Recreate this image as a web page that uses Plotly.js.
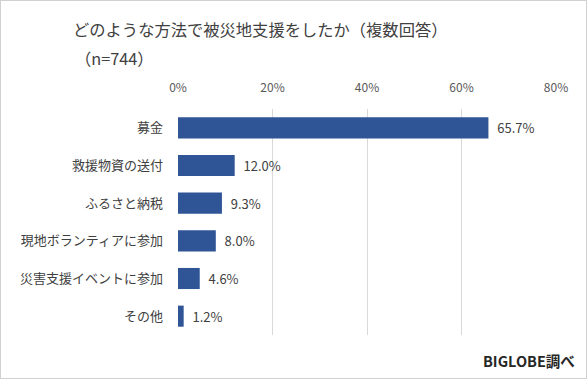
<!DOCTYPE html>
<html><head><meta charset="utf-8">
<script src="https://cdn.plot.ly/plotly-3.0.1.min.js"></script>
<style>
html,body{margin:0;padding:0;background:#fff;}
#wrap{position:relative;width:587px;height:379px;}
#frame{position:absolute;left:0;top:0;width:585px;height:377px;border:1px solid #d0d0d0;pointer-events:none;}
</style>
</head><body>
<div id="wrap"><div id="chart"></div><div id="frame"></div></div>
<script>
const categories = ["募金","救援物資の送付","ふるさと納税","現地ボランティアに参加","災害支援イベントに参加","その他"];
const values = [65.7, 12.0, 9.3, 8.0, 4.6, 1.2];
const tickValues = [0, 20, 40, 60, 80];
const tickLabels = ["0%", "20%", "40%", "60%", "80%"];
const titleLine1 = "どのような方法で被災地支援をしたか（複数回答）";
const titleLine2 = "（n=744）";
const sourceText = "BIGLOBE調べ";

const FONT = "'Noto Sans CJK JP', 'Noto Sans', sans-serif";
const L = 178, R = 556, T = 109, B = 335, W = 587, H = 379;
const px = x => (x - L) / (R - L);
const py = y => (B - y) / (B - T);

const trace = {
  type: "bar",
  orientation: "h",
  x: values,
  y: categories,
  marker: {color: "#2F5597"},
  width: 0.56,
  text: values.map(v => "  " + v.toFixed(1) + "%"),
  textposition: "outside",
  cliponaxis: false,
  textfont: {family: FONT, size: 13, color: "#404040"},
  hoverinfo: "none"
};

const layout = {
  width: W, height: H,
  margin: {l: L, r: W - R, t: T, b: H - B, pad: 0},
  paper_bgcolor: "#fff", plot_bgcolor: "#fff",
  showlegend: false,
  font: {family: FONT, color: "#404040"},
  xaxis: {
    side: "top", range: [0, 80], tickmode: "array", tickvals: tickValues, ticktext: tickLabels,
    showgrid: true, gridcolor: "#d9d9d9", gridwidth: 1, zeroline: false,
    showline: false, ticks: "", ticklabelstandoff: 14,
    tickfont: {family: FONT, size: 12, color: "#595959"},
    fixedrange: true
  },
  yaxis: {
    type: "category", autorange: "reversed", showgrid: false, zeroline: false,
    showline: false, ticks: "", ticklabelstandoff: 14,
    tickfont: {family: FONT, size: 13, color: "#404040"}, fixedrange: true
  },
  title: {
    text: titleLine1, xref: "container", yref: "container",
    x: 73 / W, xanchor: "left", y: 1 - 30 / H, yanchor: "middle",
    font: {family: FONT, size: 16.3, color: "#404040"}
  },
  annotations: [
    {text: titleLine2, xref: "paper", yref: "paper", x: px(73), y: py(58),
     xanchor: "left", yanchor: "middle", showarrow: false,
     font: {family: FONT, size: 16.3, color: "#404040"}},
    {text: "<b>" + sourceText + "</b>", xref: "paper", yref: "paper", x: px(577), y: py(360),
     xanchor: "right", yanchor: "middle", showarrow: false,
     font: {family: FONT, size: 14.5, color: "#262626"}}
  ]
};

Plotly.newPlot("chart", [trace], layout, {displayModeBar: false, staticPlot: true});
</script>
</body></html>
